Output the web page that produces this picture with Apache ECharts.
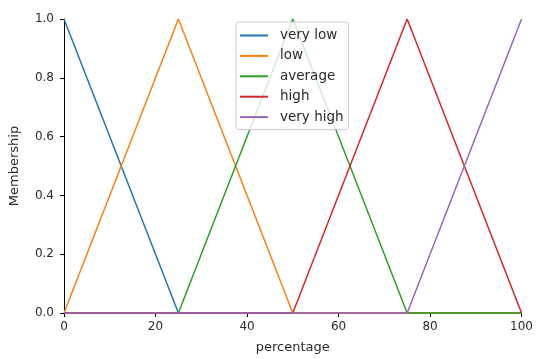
<!DOCTYPE html>
<html>
<head>
<meta charset="utf-8">
<script src="https://cdn.jsdelivr.net/npm/echarts@6/dist/echarts.min.js"></script>
<style>html,body{margin:0;padding:0;background:#fff}#c{width:536px;height:359px}</style>
</head>
<body>
<div id="c"></div>
<script>
const xValues = [0, 25, 50, 75, 100];
const seriesNames = ["very low", "low", "average", "high", "very high"];
const veryLow = [1, 0, 0, 0, 0];
const low = [0, 1, 0, 0, 0];
const average = [0, 0, 1, 0, 0];
const high = [0, 0, 0, 1, 0];
const veryHigh = [0, 0, 0, 0, 1];
const colors = ["#1f77b4", "#ff7f0e", "#2ca02c", "#d62728", "#9467bd"];
const allValues = [veryLow, low, average, high, veryHigh];

const chart = echarts.init(document.getElementById('c'), null, {renderer: 'canvas'});
const font = 'DejaVu Sans';
const txt = '#2b2b2b';
chart.setOption({
  animation: false,
  grid: {left: 62, right: 13, top: 19, bottom: 44, containLabel: false},
  legend: {
    orient: 'vertical', left: 236, top: 22,
    padding: [6, 5, 5, 4],
    itemWidth: 28, itemHeight: 2, itemGap: 5.4,
    icon: 'rect',
    backgroundColor: 'rgba(255,255,255,0.8)',
    borderColor: '#cccccc', borderWidth: 1, borderRadius: 3,
    textStyle: {fontFamily: font, fontSize: 13.5, color: txt, lineHeight: 15, padding: [0, 0, 0, 7]},
    data: seriesNames
  },
  xAxis: {
    type: 'value', min: 0, max: 100, interval: 20,
    name: 'percentage', nameLocation: 'middle', nameGap: 28,
    nameTextStyle: {fontFamily: font, fontSize: 13, color: txt},
    axisLine: {show: true, lineStyle: {color: '#000', width: 1}},
    axisTick: {show: true, length: 4, lineStyle: {color: '#000'}},
    axisLabel: {fontFamily: font, fontSize: 12, color: txt, margin: 8},
    splitLine: {show: false}
  },
  yAxis: {
    type: 'value', min: 0, max: 1, interval: 0.2,
    name: 'Membership', nameLocation: 'middle', nameGap: 43,
    nameTextStyle: {fontFamily: font, fontSize: 13, color: txt},
    axisLine: {show: true, lineStyle: {color: '#000', width: 1}},
    axisTick: {show: true, length: 4, lineStyle: {color: '#000'}},
    axisLabel: {fontFamily: font, fontSize: 12, color: txt, margin: 10,
      formatter: v => v.toFixed(1)},
    splitLine: {show: false}
  },
  series: seriesNames.map((n, i) => ({
    name: n, type: 'line', symbol: 'none', clip: false,
    data: xValues.map((x, j) => [x, allValues[i][j]]),
    lineStyle: {color: colors[i], width: 1.5},
    itemStyle: {color: colors[i]}
  }))
});
</script>
</body>
</html>
